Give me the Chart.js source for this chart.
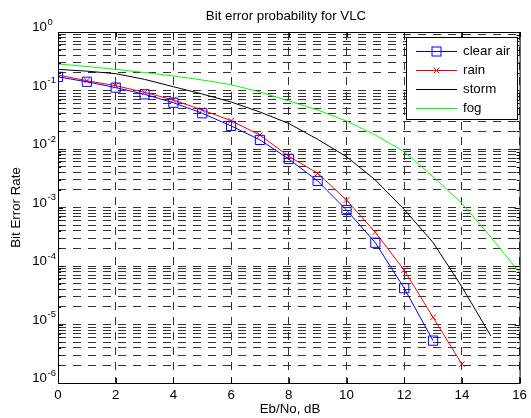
<!DOCTYPE html>
<html>
<head>
<meta charset="utf-8">
<script src="https://cdn.jsdelivr.net/npm/chart.js@4.4.1/dist/chart.umd.min.js"></script>
<style>
  html, body { margin: 0; padding: 0; background: #fff; }
</style>
</head>
<body>
<canvas id="chart" width="531" height="418"></canvas>
<script>
const ebno = [0, 1, 2, 3, 4, 5, 6, 7, 8, 9, 10, 11, 12, 13, 14, 15, 16];

const clearAir = [0.171, 0.141, 0.112, 0.0861, 0.0618, 0.0408, 0.0248, 0.0143, 0.00675, 0.00284, 0.000906, 0.00025, 4.17e-5, 5.3e-6];
const rain = [0.184, 0.147, 0.121, 0.0931, 0.0689, 0.0464, 0.0305, 0.0173, 0.0075, 0.00384, 0.00134, 0.000377, 8.5e-5, 1.33e-5, 2.1e-6];
const storm = [0.230, 0.214, 0.194, 0.155, 0.116, 0.0871, 0.0636, 0.0429, 0.0273, 0.01465, 0.00738, 0.00295, 0.000925, 0.000252, 4.4e-5, 6.4e-6];
const fog = [0.284, 0.257, 0.230, 0.203, 0.177, 0.151, 0.1257, 0.0943, 0.0662, 0.0464, 0.0301, 0.0173, 0.0090, 0.00336, 0.00118, 0.000313, 7.7e-5];

const xTicks = [0, 2, 4, 6, 8, 10, 12, 14, 16];
const yExponents = [0, -1, -2, -3, -4, -5, -6];

const FONT = 'Arial, "Liberation Sans", Helvetica, sans-serif';
const GRID = '#333';

const toPts = (vals) => vals.map((v, i) => ({ x: ebno[i], y: v }));

/* MATLAB-ish axes: box, inward ticks, 10^n labels, titles, legend */
const matlabAxes = {
  id: 'matlabAxes',
  afterDraw(chart) {
    const { ctx, chartArea: a, scales: { x, y } } = chart;
    ctx.save();
    ctx.strokeStyle = '#000';
    ctx.lineWidth = 1;
    ctx.setLineDash([]);

    // inward ticks
    ctx.beginPath();
    y.ticks.forEach(t => {
      const py = Math.round(y.getPixelForValue(t.value)) + 0.5;
      const len = t.major ? 5 : 3;
      ctx.moveTo(a.left, py); ctx.lineTo(a.left + len, py);
      ctx.moveTo(a.right, py); ctx.lineTo(a.right - len, py);
    });
    xTicks.forEach(v => {
      const px = Math.round(x.getPixelForValue(v)) + 0.5;
      ctx.moveTo(px, a.bottom); ctx.lineTo(px, a.bottom - 5);
      ctx.moveTo(px, a.top); ctx.lineTo(px, a.top + 5);
    });
    ctx.stroke();

    // box
    ctx.strokeRect(a.left + 0.5, a.top + 0.5, a.right - a.left, a.bottom - a.top);

    // y labels 10^n
    ctx.fillStyle = '#000';
    ctx.textBaseline = 'alphabetic';
    yExponents.forEach(e => {
      const py = y.getPixelForValue(Math.pow(10, e));
      ctx.font = `13.3px ${FONT}`;
      ctx.textAlign = 'right';
      ctx.fillText('10', 47, py - 1);
      ctx.font = `9.5px ${FONT}`;
      ctx.textAlign = 'left';
      ctx.fillText(String(e), 47.5, py - 7.5);
    });

    // titles
    ctx.font = `13.3px ${FONT}`;
    ctx.textAlign = 'center';
    ctx.fillText('Bit error probability for VLC', 286, 20);
    ctx.fillText('Eb/No, dB', 290, 413);
    ctx.save();
    ctx.translate(16, (a.top + a.bottom) / 2);
    ctx.rotate(-Math.PI / 2);
    ctx.textBaseline = 'middle';
    ctx.fillText('Bit Error Rate', 0, 0);
    ctx.restore();

    // legend
    ctx.fillStyle = '#fff';
    ctx.fillRect(406, 37, 112, 82);
    ctx.strokeStyle = '#000';
    ctx.strokeRect(406.5, 37.5, 111, 82);
    chart.data.datasets.forEach((ds, i) => {
      const ry = Math.round(50.5 + i * 19.2) + 0.5;
      ctx.strokeStyle = ds.borderColor;
      ctx.lineWidth = 1;
      ctx.beginPath();
      ctx.moveTo(416, ry); ctx.lineTo(457, ry);
      ctx.stroke();
      if (ds.pointStyle === 'rect' && ds.pointRadius > 0) {
        ctx.strokeRect(432, ry - 4.5, 9, 9);
      } else if (ds.pointStyle === 'crossRot' && ds.pointRadius > 0) {
        ctx.beginPath();
        ctx.moveTo(433.7, ry - 2.8); ctx.lineTo(439.3, ry + 2.8);
        ctx.moveTo(433.7, ry + 2.8); ctx.lineTo(439.3, ry - 2.8);
        ctx.stroke();
      }
      ctx.fillStyle = '#000';
      ctx.textAlign = 'left';
      ctx.textBaseline = 'middle';
      ctx.font = `13.3px ${FONT}`;
      ctx.fillText(ds.label, 463, ry);
    });
    ctx.restore();
  }
};

const ctx = document.getElementById('chart').getContext('2d');
new Chart(ctx, {
  type: 'line',
  data: {
    datasets: [
      { label: 'clear air', data: toPts(clearAir), borderColor: '#0000ff', borderWidth: 1,
        pointStyle: 'rect', pointRadius: 6.5, pointBorderColor: '#0000ff', pointBackgroundColor: 'rgba(0,0,0,0)', pointBorderWidth: 1 },
      { label: 'rain', data: toPts(rain), borderColor: '#ff0000', borderWidth: 1,
        pointStyle: 'crossRot', pointRadius: 4, pointBorderColor: '#ff0000', pointBorderWidth: 1 },
      { label: 'storm', data: toPts(storm), borderColor: '#000000', borderWidth: 1, pointRadius: 0 },
      { label: 'fog', data: toPts(fog), borderColor: '#00ff00', borderWidth: 1, pointRadius: 0 }
    ]
  },
  options: {
    responsive: false,
    animation: false,
    devicePixelRatio: 1,
    layout: { padding: { top: 32, right: 8, left: 0, bottom: 0 } },
    elements: { line: { tension: 0, fill: false } },
    plugins: { legend: { display: false }, tooltip: { enabled: false }, title: { display: false } },
    scales: {
      x: {
        type: 'linear', min: 0, max: 16,
        afterBuildTicks: (s) => { s.ticks = xTicks.map(v => ({ value: v })); },
        afterFit: (s) => { s.height = 35; },
        grid: { color: GRID, lineWidth: 1, drawTicks: false },
        border: { display: false, dash: [8, 7] },
        ticks: { color: '#000', font: { family: FONT, size: 13.3 }, padding: 4, autoSkip: false, maxRotation: 0 }
      },
      y: {
        type: 'logarithmic', min: 1e-6, max: 1,
        afterBuildTicks: (s) => {
          const t = [];
          yExponents.slice().reverse().forEach(e => {
            for (let m = 1; m < 10; m++) {
              const v = m * Math.pow(10, e);
              if (v <= 1) t.push({ value: v, major: m === 1 });
            }
          });
          s.ticks = t;
        },
        afterFit: (s) => { s.width = 58; },
        grid: { color: GRID, lineWidth: 1, drawTicks: false },
        border: { display: false, dash: [8, 7] },
        ticks: { display: false }
      }
    }
  },
  plugins: [matlabAxes]
});
</script>
</body>
</html>
